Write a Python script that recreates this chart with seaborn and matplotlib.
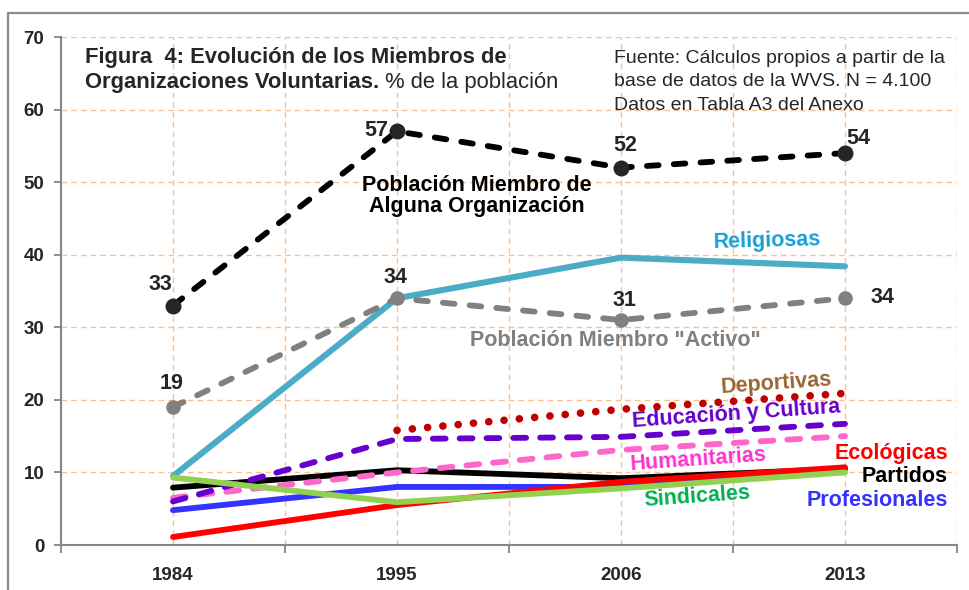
import numpy as np
import pandas as pd
import seaborn as sns
import matplotlib.pyplot as plt
from matplotlib.lines import Line2D

# datos (% de la poblacion)
years = ['1984', '1995', '2006', '2013']
miembro = [33, 57, 52, 54]
activo = [19, 34, 31, 34]
religiosas = [9.5, 34.0, 39.6, 38.4]
deportivas = [np.nan, 15.8, 18.7, 20.9]
educacion = [6.0, 14.6, 14.9, 16.7]
humanitarias = [6.5, 10.0, 13.1, 15.0]
partidos = [7.9, 10.3, 9.2, 10.5]
profesionales = [4.8, 8.0, 8.0, 10.5]
ecologicas = [1.1, 5.5, 8.7, 10.7]
sindicales = [9.3, 5.9, 7.8, 10.0]

W, H = 970, 590


def px(x, y):
    """ pixel -> figure fraction """
    return x / W, 1 - y / H


sns.set_style('white')
plt.rcParams['font.family'] = ['Liberation Sans', 'DejaVu Sans']

fig = plt.figure(figsize=(9.7, 5.9), dpi=100)
ax = fig.add_axes([61 / W, 1 - 545 / H, (957 - 61) / W, (545 - 37) / H])

# borde exterior del grafico (arriba e izquierda)
x0, ytop = px(8.5, 12.5)
fig.add_artist(Line2D([x0, 1.01], [ytop, ytop], transform=fig.transFigure,
                      color='#8c8c8c', lw=1.6, zorder=20))
fig.add_artist(Line2D([x0, x0], [-0.01, ytop], transform=fig.transFigure,
                      color='#8c8c8c', lw=1.6, zorder=20))

pos = np.arange(len(years))

series = [
    # (valores, color, lw, linestyle, marker, markersize)
    (religiosas, '#4BACC6', 4.4, '-', None, 0),
    (partidos, '#000000', 4.2, '-', None, 0),
    (profesionales, '#3333FF', 4.2, '-', None, 0),
    (ecologicas, '#FF0000', 4.2, '-', None, 0),
    (humanitarias, '#FF66CC', 4.2, (0, (2.2, 2.4)), None, 0),
    (educacion, '#6600CC', 4.2, (0, (2.2, 2.4)), None, 0),
    (deportivas, '#C00000', 5.5, (0, (0.01, 2.0)), None, 0),
    (sindicales, '#92D050', 4.2, '-', None, 0),
    (activo, '#808080', 4.2, (0, (2.0, 2.6)), 'o', 10.5),
    (miembro, '#000000', 4.2, (0, (2.0, 2.6)), 'o', 11.5),
]

for vals, col, lw, ls, mk, ms in series:
    d = pd.DataFrame({'pos': pos, 'val': vals}).dropna()
    kw = dict(marker=mk, markersize=ms, markeredgewidth=0) if mk else {}
    if mk:
        kw['markerfacecolor'] = '#262626' if col == '#000000' else col
    sns.lineplot(data=d, x='pos', y='val', ax=ax, color=col, lw=lw, linestyle=ls,
                 dash_capstyle='round', solid_capstyle='round', **kw)

ax.set_xlim(-0.5, 3.5)
ax.set_ylim(0, 70)
ax.set_yticks(range(0, 71, 10))
ax.set_xticks(pos)
ax.set_xticklabels(years)
ax.set_xticks(np.arange(-0.5, 3.6, 1), minor=True)
ax.set_xlabel('')
ax.set_ylabel('')

ax.grid(True, which='both', color='#FAC090', linestyle=(0, (4, 3)), lw=1)
ax.set_axisbelow(True)
for s in ['top', 'right']:
    ax.spines[s].set_visible(False)
for s in ['left', 'bottom']:
    ax.spines[s].set_color('#868686')
    ax.spines[s].set_linewidth(1.5)

ax.tick_params(axis='y', which='major', left=True, length=5, width=1.3, color='#868686',
               labelsize=13.5, pad=7)
ax.tick_params(axis='x', which='major', bottom=False, length=0, labelsize=13.5, pad=16)
ax.tick_params(axis='x', which='minor', bottom=True, length=6, width=1.3, color='#868686')
for lab in ax.get_xticklabels() + ax.get_yticklabels():
    lab.set_fontweight('bold')

# etiquetas de datos
offs_m = [(-13, 21), (-21, 1), (4, 22), (13, 15)]
offs_a = [(-1, 24), (-2, 21), (3, 20), (37, 1)]
for i, v in enumerate(miembro):
    ax.annotate(str(v), (pos[i], v), xytext=offs_m[i], textcoords='offset pixels',
                ha='center', va='center', fontsize=15.5, fontweight='bold')
for i, v in enumerate(activo):
    ax.annotate(str(v), (pos[i], v), xytext=offs_a[i], textcoords='offset pixels',
                ha='center', va='center', fontsize=15.5, fontweight='bold')

# titulo
t1 = fig.text(*px(85, 63), 'Figura  4: Evolución de los Miembros de', fontsize=15.8,
              fontweight='bold', va='baseline')
t2 = fig.text(*px(85, 88), 'Organizaciones Voluntarias.', fontsize=15.8,
              fontweight='bold', va='baseline')
ax.annotate(' % de la población', xy=(1, 0), xycoords=t2, va='bottom', ha='left',
            fontsize=15.8)

fuente = ['Fuente: Cálculos propios a partir de la',
          'base de datos de la WVS. N = 4.100',
          'Datos en Tabla A3 del Anexo']
for k, line in enumerate(fuente):
    fig.text(*px(614, 63 + 23.5 * k), line, fontsize=14, va='baseline')

# nombres de series
lab_kw = dict(fontsize=15.5, fontweight='bold', ha='center', va='center')
fig.text(*px(477, 196), 'Población Miembro de\nAlguna Organización', color='black',
         linespacing=1.05, **lab_kw)
fig.text(*px(615, 340), 'Población Miembro "Activo"', color='#7F7F7F', **lab_kw)
fig.text(*px(767, 241), 'Religiosas', color='#17A0D4', rotation=1.5, **lab_kw)
fig.text(*px(776, 384), 'Deportivas', color='#996633', rotation=4, **lab_kw)
fig.text(*px(736, 414), 'Educación y Cultura', color='#6600CC', rotation=4, **lab_kw)
fig.text(*px(698, 460), 'Humanitarias', color='#FF33CC', rotation=4, **lab_kw)
fig.text(*px(697, 497), 'Sindicales', color='#00B050', rotation=4, **lab_kw)
lab_kw['ha'] = 'right'
fig.text(*px(948, 453), 'Ecológicas', color='#FF0000', **lab_kw)
fig.text(*px(948, 477), 'Partidos', color='black', **lab_kw)
fig.text(*px(948, 500), 'Profesionales', color='#3333FF', **lab_kw)

fig.savefig('out.png', dpi=100)
